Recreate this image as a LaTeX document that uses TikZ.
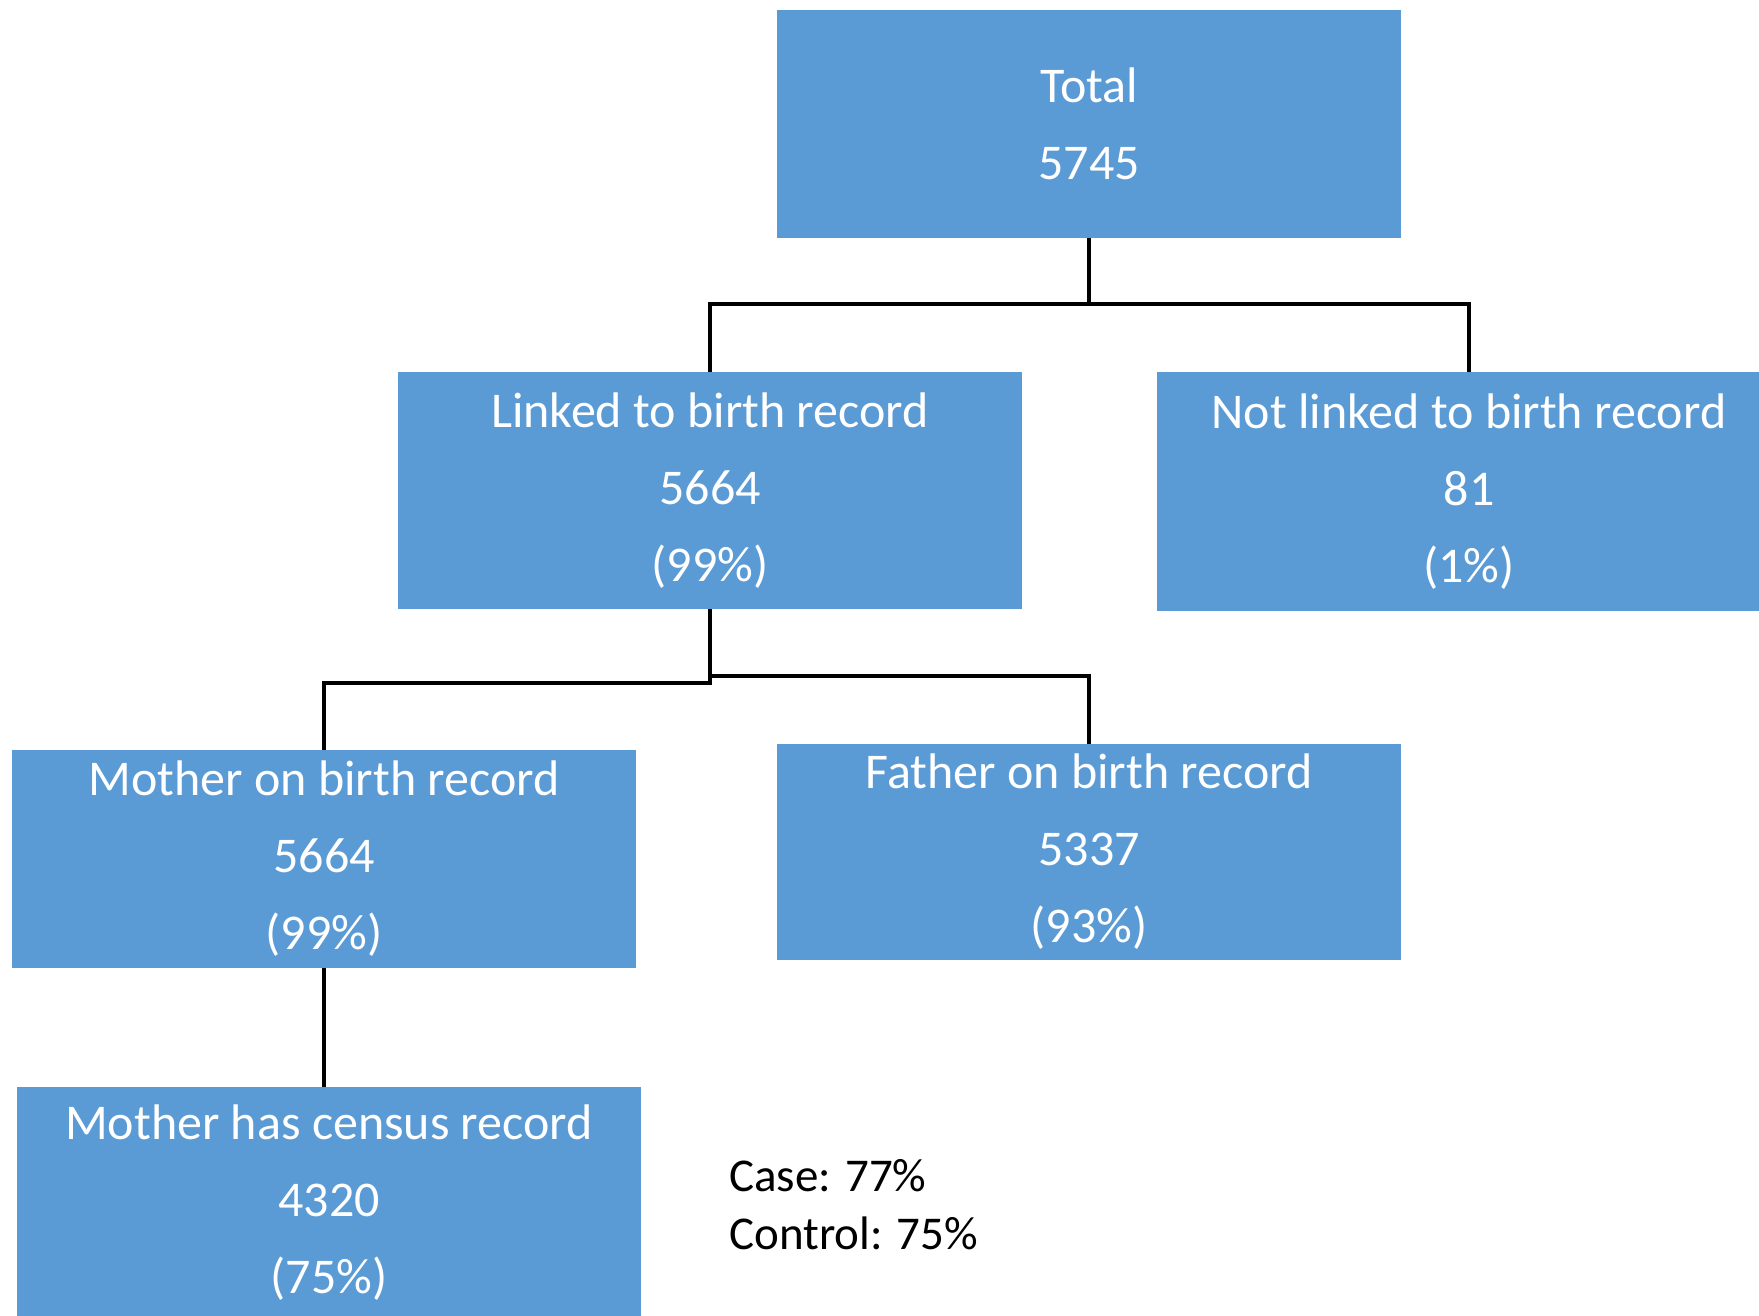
\documentclass[tikz,border=0pt]{standalone}
\usepackage{fontspec}
\setmainfont{Carlito}
\definecolor{boxblue}{HTML}{5B9BD5}
\tikzset{
  box/.style={fill=boxblue, draw=none, text=white, align=center, inner sep=0pt,
    minimum width=624pt, font=\fontsize{50}{77}\selectfont},
  conn/.style={draw=black, line width=4pt},
  note/.style={text=black, align=left, inner sep=0pt, anchor=west,
    font=\fontsize{47}{58}\selectfont}
}
\begin{document}
\begin{tikzpicture}[x=1pt,y=-1pt]
\useasboundingbox (0,0) rectangle (1759,1316);
\clip (0,0) rectangle (1759,1316);
\node[box, minimum height=228pt] (total) at (1089,124) {\raisebox{-2pt}{Total}\\\raisebox{-2pt}{5745}};
\node[box, minimum height=237pt] (linked) at (710,490.5) {Linked to birth record\\5664\\(99\%)};
\node[box, minimum height=239pt] (notlinked) at (1469,491.5) {Not linked to birth record\\81\\(1\%)};
\node[box, minimum height=218pt] (mob) at (324,859) {Mother on birth record\\5664\\(99\%)};
\node[box, minimum height=216pt] (fob) at (1089,852) {Father on birth record\\5337\\(93\%)};
\node[box, minimum height=232pt] (mcr) at (329,1203) {Mother has census record\\4320\\(75\%)};
\node[note] (cc) at (729,1205) {Case: 77\%\\Control: 75\%};
\coordinate (j1) at (1089,304);
\coordinate (j2) at (710,683);
\coordinate (j3) at (710,676);
\draw[conn] (total.south) -- (j1);
\draw[conn] (j1) -| (linked.north);
\draw[conn] (j1) -| (notlinked.north);
\draw[conn] (linked.south) -- (j2) -| (mob.north);
\draw[conn] (j3) -| (fob.north);
\draw[conn] (mob.south) -- (mob.south |- mcr.north);
\end{tikzpicture}
\end{document}
